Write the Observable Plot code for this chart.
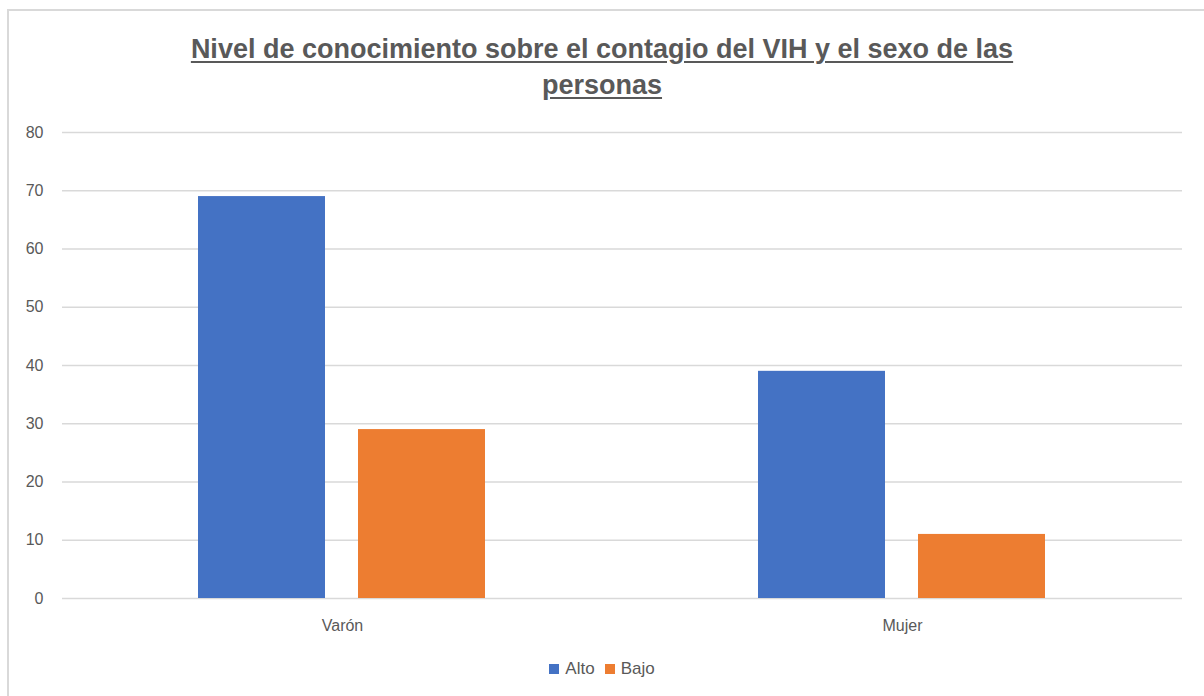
<!DOCTYPE html>
<html>
<head>
<meta charset="utf-8">
<script src="https://cdn.jsdelivr.net/npm/d3@7"></script>
<script src="https://cdn.jsdelivr.net/npm/@observablehq/plot@0.6"></script>
<style>
  html, body { margin: 0; padding: 0; background: #fff; }
  body { width: 1204px; height: 696px; position: relative; overflow: hidden; font-family: "Liberation Sans", "Open Sans", sans-serif; }
  #frame { position: absolute; left: 7px; top: 9px; width: 1220px; height: 720px; border-top: 2px solid #d9d9d9; border-left: 2px solid #d9d9d9; box-sizing: border-box; }
  #title { position: absolute; left: 162px; width: 880px; top: 31px; text-align: center; font-weight: bold; font-size: 27px; line-height: 36px; color: #595959; text-decoration: underline; text-underline-offset: 3px; }
  #chart { position: absolute; left: 0; top: 110px; }
  #legend { position: absolute; left: 0; width: 1204px; top: 659px; text-align: center; font-size: 17px; color: #595959; }
  #legend .item { display: inline-flex; align-items: center; margin: 0 5px; }
  #legend .sw { width: 10px; height: 10px; display: inline-block; margin-right: 6px; }
</style>
</head>
<body>
<div id="frame"></div>
<div id="title">Nivel de conocimiento sobre el contagio del VIH y el sexo de las personas</div>
<div id="chart"></div>
<div id="legend"></div>
<script>
const sexes = ["Varón", "Mujer"];
const levels = ["Alto", "Bajo"];
const alto = [69, 39];
const bajo = [29, 11];
const colors = ["#4472C4", "#ED7D31"];
const yTicks = [0, 10, 20, 30, 40, 50, 60, 70, 80];

const data = [];
sexes.forEach((s, i) => {
  data.push({sexo: s, nivel: levels[0], valor: alto[i]});
  data.push({sexo: s, nivel: levels[1], valor: bajo[i]});
});

const chart = Plot.plot({
  width: 1204,
  height: 530,
  marginLeft: 62,
  marginRight: 22,
  marginTop: 22,
  marginBottom: 42,
  style: {fontFamily: "Liberation Sans, Open Sans, sans-serif", fontSize: "16px", color: "#595959", background: "transparent"},
  fx: {domain: sexes, padding: 0, label: null},
  x: {domain: levels, axis: null, paddingInner: 0.206, paddingOuter: 0.853},
  y: {domain: [0, 80], ticks: yTicks, label: null},
  color: {domain: levels, range: colors},
  marks: [
    Plot.ruleY(yTicks, {stroke: "#d9d9d9", strokeWidth: 1.3}),
    Plot.barY(data, {fx: "sexo", x: "nivel", y: "valor", fill: "nivel"}),
    Plot.axisY({ticks: yTicks, tickSize: 0, tickPadding: 19, label: null, fill: "#595959", fontSize: 16}),
    Plot.axisFx({anchor: "bottom", tickSize: 0, tickPadding: 21, label: null, fill: "#595959", fontSize: 16})
  ]
});
document.getElementById("chart").appendChild(chart);

const legend = document.getElementById("legend");
levels.forEach((l, i) => {
  const item = document.createElement("span");
  item.className = "item";
  const sw = document.createElement("span");
  sw.className = "sw";
  sw.style.background = colors[i];
  item.appendChild(sw);
  item.appendChild(document.createTextNode(l));
  legend.appendChild(item);
});
</script>
</body>
</html>
